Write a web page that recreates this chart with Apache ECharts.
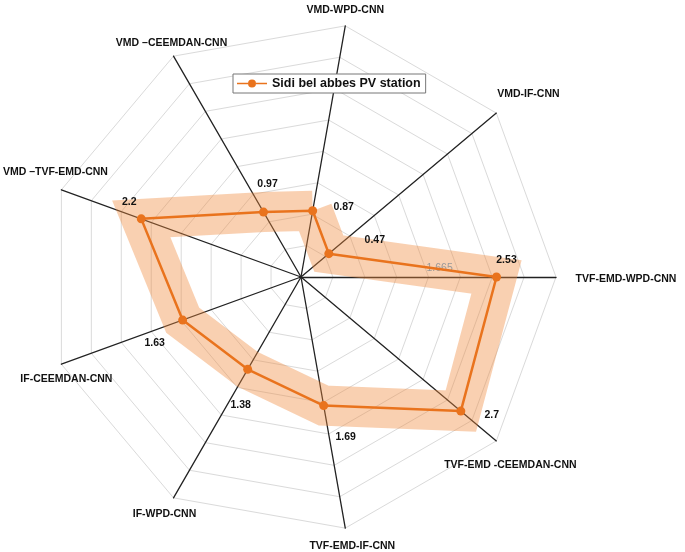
<!DOCTYPE html>
<html>
<head>
<meta charset="utf-8">
<script src="https://cdn.jsdelivr.net/npm/echarts@6/dist/echarts.min.js"></script>
<style>html,body{margin:0;padding:0;background:#fff}#c{width:685px;height:552px}</style>
</head>
<body>
<div id="c"></div>
<script>
// Indicators listed counter-clockwise starting from the top axis
const indicators = ['VMD-WPD-CNN', 'VMD \u2013CEEMDAN-CNN', 'VMD \u2013TVF-EMD-CNN', 'IF-CEEMDAN-CNN', 'IF-WPD-CNN',
  'TVF-EMD-IF-CNN', 'TVF-EMD -CEEMDAN-CNN', 'TVF-EMD-WPD-CNN', 'VMD-IF-CNN'];
const values = [0.87, 0.97, 2.2, 1.63, 1.38, 1.69, 2.7, 2.53, 0.47];
const seriesName = 'Sidi bel abbes PV station';
const axisMax = 3.3;
const refTickAxis = 'TVF-EMD-WPD-CNN';
const refTickValue = 1.665;

// label offsets (px) relative to anchor points
const nameOffsets = [[0,-16],[-2,-13],[-6,-18],[5,15],[-9,16],[7,18],[14,24],[70,2],[32,-19]];
const valueOffsets = [[31,-4],[4,-28],[-12,-17],[-28,23],[-7,36],[22,32],[31,4],[10,-17],[46,-14]];
function pad(o){const dx=o[0],dy=o[1];return [dy>0?2*dy:0, dx<0?-2*dx:0, dy<0?-2*dy:0, dx>0?2*dx:0];}

const font = '"Liberation Sans", Arial, Helvetica, sans-serif';
const nameRich = {}, valRich = {};
indicators.forEach((n,i)=>{
  nameRich['n'+i] = {padding: pad(nameOffsets[i]), fontSize: 10.5, fontWeight: 'bold', color: '#111', fontFamily: font};
  valRich['v'+i] = {padding: pad(valueOffsets[i]), fontSize: 10.5, fontWeight: 'bold', color: '#111', fontFamily: font};
});

const refData = indicators.map(n => n === refTickAxis ? refTickValue : 0);

const chart = echarts.init(document.getElementById('c'), null, {renderer: 'canvas'});
chart.setOption({
  animation: false,
  backgroundColor: '#fff',
  legend: {
    data: [seriesName],
    left: 233, top: 74,
    padding: [3, 5, 3, 4],
    itemWidth: 30, itemHeight: 8,
    icon: 'path://M0,4.3H11V5.7H0Z M19,4.3H30V5.7H19Z M11,5a4,4 0 1,0 8,0a4,4 0 1,0 -8,0Z',
    borderColor: '#777', borderWidth: 1, backgroundColor: '#fff',
    textStyle: {fontSize: 12.5, fontWeight: 'bold', color: '#111', fontFamily: font}
  },
  radar: {
    center: [301, 277],
    radius: 255,
    startAngle: 80,
    splitNumber: 8,
    shape: 'polygon',
    indicator: indicators.map(n => ({name: n, min: 0, max: axisMax})),
    nameGap: 0,
    axisName: {
      align: 'center', verticalAlign: 'middle',
      formatter: (name) => '{n' + indicators.indexOf(name) + '|' + name + '}',
      rich: nameRich,
      fontFamily: font, fontSize: 10.5, fontWeight: 'bold', color: '#111'
    },
    axisLine: {show: true, lineStyle: {color: '#222', width: 1.3}},
    axisTick: {show: false},
    axisLabel: {show: false},
    splitLine: {show: true, lineStyle: {color: '#dadada', width: 1}},
    splitArea: {show: false}
  },
  series: [
    {
      type: 'radar', name: 'band', z: 2, silent: true,
      symbol: 'none',
      lineStyle: {color: '#f08a3c', width: 40, opacity: 0.4, join: 'miter', miterLimit: 4},
      itemStyle: {color: '#f08a3c'},
      data: [{name: 'band', value: values}]
    },
    {
      type: 'radar', name: 'tick', z: 3, silent: true,
      symbol: 'circle', symbolSize: 1,
      itemStyle: {color: 'rgba(0,0,0,0)'},
      lineStyle: {width: 0, opacity: 0},
      label: {
        show: true, position: 'inside',
        formatter: p => p.value ? '{g|' + p.value + '}' : '',
        rich: {g: {padding: [0, 0, 18, 20], fontSize: 10.5, color: '#999', fontFamily: font}}
      },
      data: [{name: 'tick', value: refData}]
    },
    {
      type: 'radar', name: seriesName, z: 4,
      symbol: 'circle', symbolSize: 9,
      itemStyle: {color: '#e9731d'},
      lineStyle: {color: '#e9731d', width: 2.5},
      label: {
        show: true, position: 'inside',
        formatter: p => '{v' + values.indexOf(p.value) + '|' + p.value + '}',
        rich: valRich
      },
      data: [{name: seriesName, value: values}]
    }
  ]
});
</script>
</body>
</html>
